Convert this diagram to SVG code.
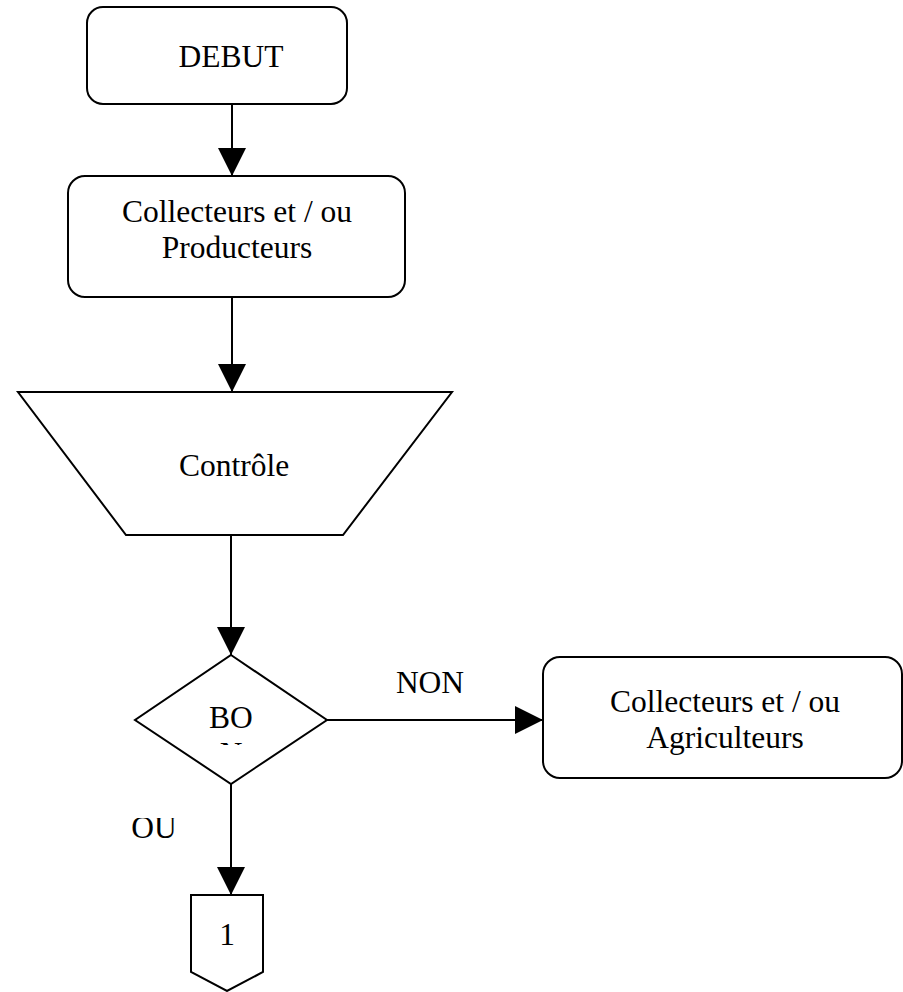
<svg xmlns="http://www.w3.org/2000/svg" width="903" height="992" viewBox="0 0 903 992">
  <style>
    .shape { fill: #fff; stroke: #000; stroke-width: 2; }
    .edge { fill: none; stroke: #000; stroke-width: 2; }
    .label { font-family: "Liberation Serif", "Times New Roman", serif; font-size: 31.5px; fill: #000; text-anchor: middle; }
  </style>
  <defs>
    <marker id="arrow" viewBox="0 0 28 28" refX="28" refY="14" markerWidth="28" markerHeight="28" markerUnits="userSpaceOnUse" orient="auto">
      <path d="M0,0 L28,14 L0,28 Z" fill="#000"/>
    </marker>
    <clipPath id="clip-decision">
      <rect x="135" y="655" width="192" height="90"/>
    </clipPath>
    <clipPath id="clip-yes">
      <rect x="120" y="818" width="56" height="40"/>
    </clipPath>
  </defs>

  <rect width="903" height="992" fill="#fff"/>

  <g id="connectors">
    <line class="edge" x1="232" y1="104" x2="232" y2="176" marker-end="url(#arrow)"/>
    <line class="edge" x1="232" y1="297" x2="232" y2="392" marker-end="url(#arrow)"/>
    <line class="edge" x1="231" y1="535" x2="231" y2="655" marker-end="url(#arrow)"/>
    <line class="edge" x1="327" y1="720" x2="543" y2="720" marker-end="url(#arrow)"/>
    <line class="edge" x1="231" y1="784" x2="231" y2="895" marker-end="url(#arrow)"/>
    <text class="label" x="430" y="693">NON</text>
    <text class="label" x="154" y="838" clip-path="url(#clip-yes)">OU</text>
  </g>

  <g id="start">
    <rect class="shape" x="87" y="7" width="260" height="97" rx="16" ry="16"/>
    <text class="label" x="231" y="67">DEBUT</text>
  </g>

  <g id="producers">
    <rect class="shape" x="68" y="176" width="337" height="121" rx="17" ry="17"/>
    <text class="label" x="237" y="222">Collecteurs et / ou</text>
    <text class="label" x="237" y="258">Producteurs</text>
  </g>

  <g id="control">
    <polygon class="shape" points="18,392 452,392 343,535 126,535"/>
    <text class="label" x="234" y="476">Contrôle</text>
  </g>

  <g id="decision">
    <polygon class="shape" points="231,655 327,720 231,784 135,720"/>
    <g clip-path="url(#clip-decision)">
      <text class="label" x="231" y="728">BO</text>
      <text class="label" x="231" y="764">N</text>
    </g>
  </g>

  <g id="farmers">
    <rect class="shape" x="543" y="657" width="359" height="121" rx="17" ry="17"/>
    <text class="label" x="725" y="712">Collecteurs et / ou</text>
    <text class="label" x="725" y="748">Agriculteurs</text>
  </g>

  <g id="page-connector">
    <polygon class="shape" points="191,895 263,895 263,972 227,991 191,972"/>
    <text class="label" x="227" y="945">1</text>
  </g>
</svg>
